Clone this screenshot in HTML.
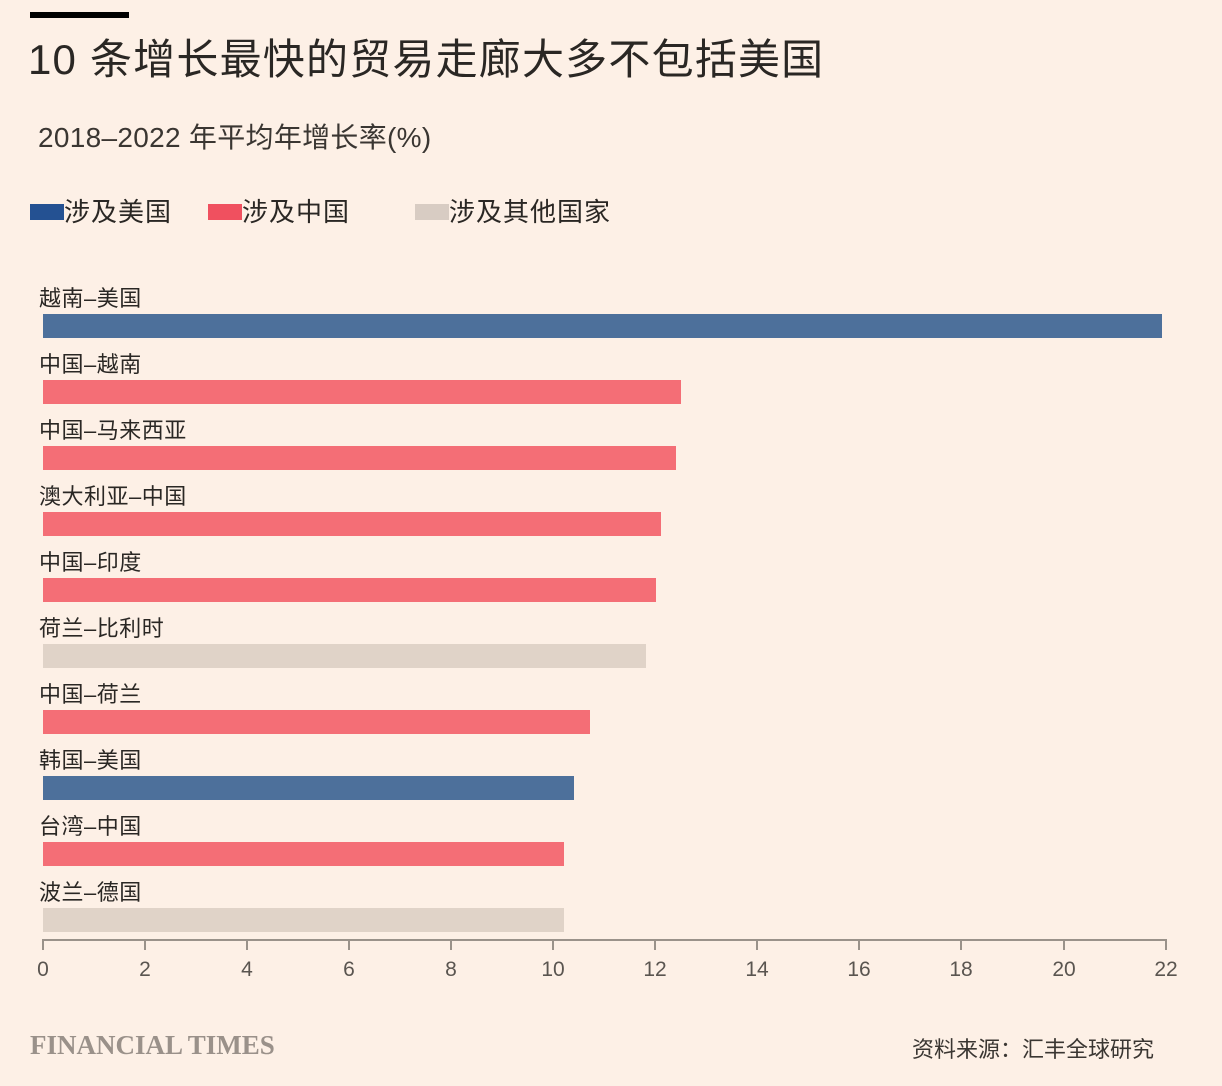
<!DOCTYPE html><html><head><meta charset="utf-8"><style>
body{margin:0;width:1222px;height:1086px;background:#fdf0e6;position:relative;overflow:hidden;font-family:"Liberation Sans","Noto Sans CJK SC",sans-serif;color:#2a2724}
.a{position:absolute;white-space:nowrap}
.bar{position:absolute;left:43px;height:24px}
.lab{position:absolute;left:39px;font-size:22px;line-height:24px;letter-spacing:0.5px}
.t{position:absolute;top:958px;font-size:21px;color:#5a5550;width:40px;text-align:center}
.tk{position:absolute;top:940px;width:2px;height:10px;background:#9a928a}
</style></head><body>
<div class="a" style="left:30px;top:12px;width:99px;height:6px;background:#000"></div>
<div class="a" style="left:28px;top:35px;font-size:42px;line-height:50px;letter-spacing:1.2px;color:#2a2724">10 条增长最快的贸易走廊大多不包括美国</div>
<div class="a" style="left:38px;top:121px;font-size:28px;line-height:34px;letter-spacing:0.3px;color:#3a3632">2018–2022 年平均年增长率(%)</div>
<div class="a" style="left:30px;top:204px;width:34px;height:16px;background:#245192"></div>
<div class="a" style="left:64px;top:195px;font-size:26px;line-height:34px;letter-spacing:1px">涉及美国</div>
<div class="a" style="left:208px;top:204px;width:34px;height:16px;background:#f0505f"></div>
<div class="a" style="left:242px;top:195px;font-size:26px;line-height:34px;letter-spacing:1px">涉及中国</div>
<div class="a" style="left:415px;top:204px;width:34px;height:16px;background:#d8ccc3"></div>
<div class="a" style="left:449px;top:195px;font-size:26px;line-height:34px;letter-spacing:1px">涉及其他国家</div>

<div class="lab" style="top:287px">越南–美国</div><div class="bar" style="top:314px;width:1119px;background:#4d709b"></div>
<div class="lab" style="top:353px">中国–越南</div><div class="bar" style="top:380px;width:638px;background:#f46e76"></div>
<div class="lab" style="top:419px">中国–马来西亚</div><div class="bar" style="top:446px;width:633px;background:#f46e76"></div>
<div class="lab" style="top:485px">澳大利亚–中国</div><div class="bar" style="top:512px;width:618px;background:#f46e76"></div>
<div class="lab" style="top:551px">中国–印度</div><div class="bar" style="top:578px;width:613px;background:#f46e76"></div>
<div class="lab" style="top:617px">荷兰–比利时</div><div class="bar" style="top:644px;width:603px;background:#e0d3c8"></div>
<div class="lab" style="top:683px">中国–荷兰</div><div class="bar" style="top:710px;width:547px;background:#f46e76"></div>
<div class="lab" style="top:749px">韩国–美国</div><div class="bar" style="top:776px;width:531px;background:#4d709b"></div>
<div class="lab" style="top:815px">台湾–中国</div><div class="bar" style="top:842px;width:521px;background:#f46e76"></div>
<div class="lab" style="top:881px">波兰–德国</div><div class="bar" style="top:908px;width:521px;background:#e0d3c8"></div>

<div class="a" style="left:42px;top:939px;width:1125px;height:2px;background:#9a928a"></div>
<div class="tk" style="left:42px"></div><div class="t" style="left:23px">0</div>
<div class="tk" style="left:144px"></div><div class="t" style="left:125px">2</div>
<div class="tk" style="left:246px"></div><div class="t" style="left:227px">4</div>
<div class="tk" style="left:348px"></div><div class="t" style="left:329px">6</div>
<div class="tk" style="left:450px"></div><div class="t" style="left:431px">8</div>
<div class="tk" style="left:552px"></div><div class="t" style="left:533px">10</div>
<div class="tk" style="left:654px"></div><div class="t" style="left:635px">12</div>
<div class="tk" style="left:756px"></div><div class="t" style="left:737px">14</div>
<div class="tk" style="left:858px"></div><div class="t" style="left:839px">16</div>
<div class="tk" style="left:960px"></div><div class="t" style="left:941px">18</div>
<div class="tk" style="left:1063px"></div><div class="t" style="left:1044px">20</div>
<div class="tk" style="left:1165px"></div><div class="t" style="left:1146px">22</div>

<div class="a" style="left:30px;top:1030px;font-family:'Liberation Serif',serif;font-size:27px;font-weight:bold;color:#9a918a">FINANCIAL TIMES</div>
<div class="a" style="left:912px;top:1032px;font-size:22px;color:#3a3632">资料来源：汇丰全球研究</div>
</body></html>
